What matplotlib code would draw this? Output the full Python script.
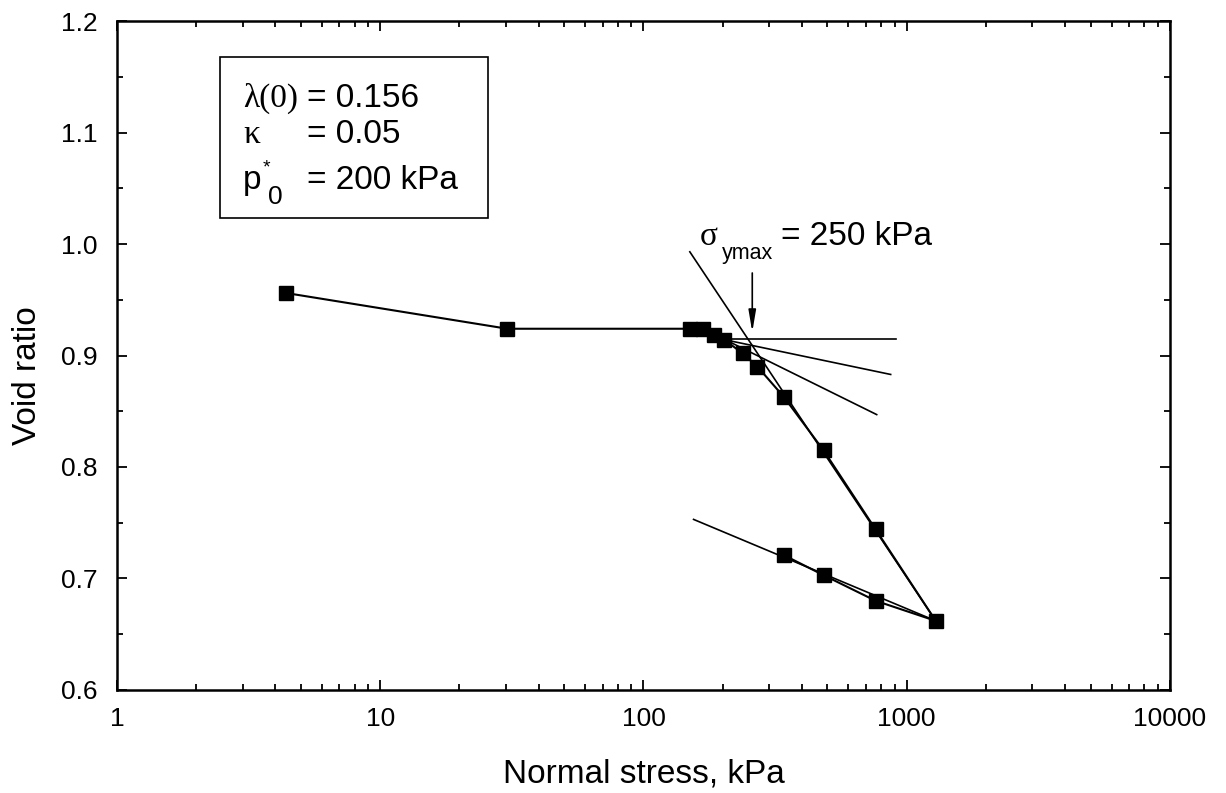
import numpy as np
import matplotlib
matplotlib.use("Agg")
import matplotlib.pyplot as plt
from matplotlib.ticker import FixedLocator, LogLocator, NullFormatter, FormatStrFormatter

plt.rcParams['font.family'] = ['Liberation Sans', 'DejaVu Sans']

# measured oedometer data (loading, then unloading)
stress_load = [4.4, 30.4, 150, 168, 185, 203, 238, 271, 341, 483, 762, 1289]
e_load = [0.956, 0.924, 0.924, 0.924, 0.918, 0.914, 0.902, 0.890, 0.863, 0.815, 0.744, 0.662]
stress_unload = [1289, 762, 483, 341]
e_unload = [0.662, 0.680, 0.703, 0.721]

# Casagrande construction lines (start, end)
horiz_x = [203, 908]
horiz_e = [0.915, 0.915]
tangent_x = [205, 869]
tangent_e = [0.914, 0.883]
bisect_x = [205, 769]
bisect_e = [0.914, 0.847]
ncl_x = [150, 1289]
ncl_e = [0.993, 0.662]
url_x = [155, 1289]
url_e = [0.753, 0.662]

sigma_y = 259
arrow_e = [0.974, 0.921]

fig = plt.figure(figsize=(12.26, 7.93), dpi=100)
ax = fig.add_axes([0.0954, 0.1299, 0.8589, 0.8436])

for xs, es in [(horiz_x, horiz_e), (tangent_x, tangent_e), (bisect_x, bisect_e),
               (ncl_x, ncl_e), (url_x, url_e)]:
    ax.plot(xs, es, color='black', lw=1.2)

ax.plot(stress_load + stress_unload[1:], e_load + e_unload[1:], color='black', lw=1.5,
        marker='s', markersize=9.5, markerfacecolor='black', markeredgecolor='black')

ax.annotate('', xy=(sigma_y, arrow_e[1]), xytext=(sigma_y, arrow_e[0]),
            arrowprops=dict(arrowstyle='-|>,head_width=0.22,head_length=1.3',
                            color='black', lw=1.2, shrinkA=0, shrinkB=0))

ax.set_xscale('log')
ax.set_xlim(1, 10000)
ax.set_ylim(0.6, 1.2)
ax.xaxis.set_minor_locator(LogLocator(base=10, subs=np.arange(2, 10), numticks=10))
ax.xaxis.set_minor_formatter(NullFormatter())
ax.set_xticks([1, 10, 100, 1000, 10000])
ax.set_xticklabels(['1', '10', '100', '1000', '10000'])
ax.yaxis.set_major_locator(FixedLocator([0.6, 0.7, 0.8, 0.9, 1.0, 1.1, 1.2]))
ax.yaxis.set_minor_locator(FixedLocator([0.65, 0.75, 0.85, 0.95, 1.05, 1.15]))
ax.yaxis.set_major_formatter(FormatStrFormatter('%.1f'))

ax.tick_params(which='both', direction='in', top=True, right=True, width=1.3, labelsize=19)
ax.tick_params(axis='x', which='major', length=7, pad=12)
ax.tick_params(axis='y', which='major', length=7, pad=14)
ax.tick_params(which='minor', length=4)
for sp in ax.spines.values():
    sp.set_linewidth(1.8)

ax.set_xlabel('Normal stress, kPa', fontsize=24, labelpad=20)
ax.set_ylabel('Void ratio', fontsize=24)
ax.yaxis.set_label_coords(-0.07, 0.47)

# parameter box
box = plt.Rectangle((220 / 1226, 1 - 218 / 793), 268 / 1226, 161 / 793,
                    transform=fig.transFigure, fill=False, edgecolor='black', lw=1.2)
fig.add_artist(box)
serif = ['Liberation Serif', 'DejaVu Serif']
fs = 24
fig.text(243 / 1226, 1 - 107 / 793, 'λ(0)', family=serif, fontsize=fs, va='baseline')
fig.text(307 / 1226, 1 - 107 / 793, '= 0.156', fontsize=fs, va='baseline')
fig.text(243 / 1226, 1 - 143 / 793, 'κ', family=serif, fontsize=fs, va='baseline')
fig.text(307 / 1226, 1 - 143 / 793, '= 0.05', fontsize=fs, va='baseline')
fig.text(243 / 1226, 1 - 189 / 793, 'p', fontsize=fs, va='baseline')
fig.text(263 / 1226, 1 - 172 / 793, '*', fontsize=14, va='baseline')
fig.text(268 / 1226, 1 - 204 / 793, '0', fontsize=19, va='baseline')
fig.text(307 / 1226, 1 - 189 / 793, '= 200 kPa', fontsize=fs, va='baseline')

# yield stress label
fig.text(700 / 1226, 1 - 245 / 793, 'σ', family=serif, fontsize=fs, va='baseline')
fig.text(722 / 1226, 1 - 259 / 793, 'ymax', fontsize=15.5, va='baseline')
fig.text(781 / 1226, 1 - 245 / 793, '= 250 kPa', fontsize=fs, va='baseline')

fig.savefig('out.png', dpi=100)
